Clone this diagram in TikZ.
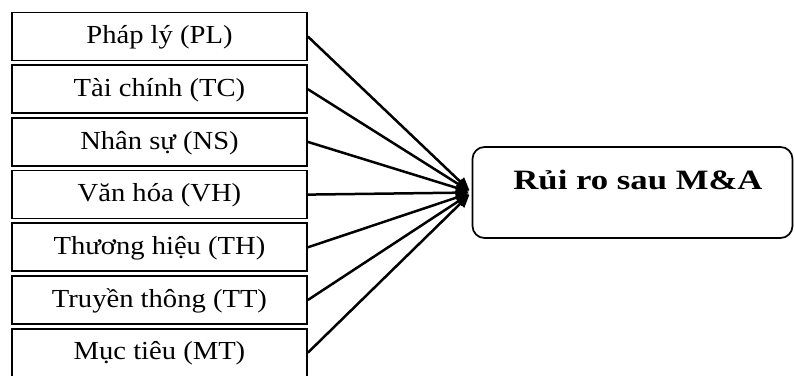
\documentclass[tikz,border=0pt]{standalone}
\usepackage{fontspec}
\setmainfont[FakeStretch=1.24]{Liberation Serif}
\newfontfamily\boxfont[FakeStretch=1.1]{Liberation Serif}
\usetikzlibrary{arrows.meta}
\begin{document}
\begin{tikzpicture}[x=1pt,y=-1pt,
  factor/.style={draw,line width=1.7pt,minimum width=295pt,minimum height=48pt,inner sep=0pt,
    text height=20pt,text depth=5.5pt,font=\boxfont\fontsize{26}{31}\selectfont},
  conn/.style={line width=2.5pt,-{Triangle[length=13pt,width=11pt]},shorten >=3pt}]
\useasboundingbox (0,0) rectangle (795,375);
\node[factor] (pl) at (159.5,36.5) {Pháp lý (PL)};
\node[factor] (tc) at (159.5,89.2) {Tài chính (TC)};
\node[factor] (ns) at (159.5,141.9) {Nhân sự (NS)};
\node[factor] (vh) at (159.5,194.6) {Văn hóa (VH)};
\node[factor] (th) at (159.5,247.3) {Thương hiệu (TH)};
\node[factor] (tt) at (159.5,300) {Truyền thông (TT)};
\node[factor] (mt) at (159.5,352.7) {Mục tiêu (MT)};
\node[draw,line width=1.7pt,rounded corners=12pt,minimum width=320pt,minimum height=91pt] (risk) at (632.5,192.5) {};
\node[font=\fontsize{28}{33}\selectfont\bfseries] (risklabel) at (638,180) {Rủi ro sau M\&A};
\foreach \n in {pl,tc,ns,vh,th,tt,mt}
  \draw[conn] (\n.east) -- (risk.west);
\end{tikzpicture}
\end{document}
